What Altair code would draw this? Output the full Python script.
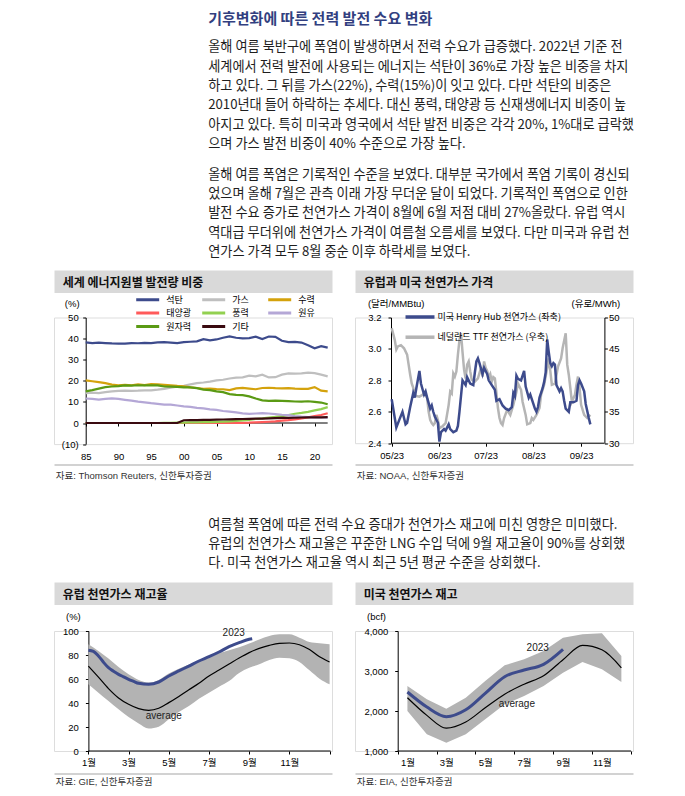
import altair as alt
import pandas as pd

FONT = "Noto Sans CJK KR"
MIX = "Liberation Sans, Noto Sans CJK KR"
NAVY = "#3d4b8c"
W = 278

# ---------------- text ----------------
heading = "기후변화에 따른 전력 발전 수요 변화"
para1 = [
    "올해 여름 북반구에 폭염이 발생하면서 전력 수요가 급증했다. 2022년 기준 전",
    "세계에서 전력 발전에 사용되는 에너지는 석탄이 36%로 가장 높은 비중을 차지",
    "하고 있다. 그 뒤를 가스(22%), 수력(15%)이 잇고 있다. 다만 석탄의 비중은",
    "2010년대 들어 하락하는 추세다. 대신 풍력, 태양광 등 신재생에너지 비중이 높",
    "아지고 있다. 특히 미국과 영국에서 석탄 발전 비중은 각각 20%, 1%대로 급락했",
    "으며 가스 발전 비중이 40% 수준으로 가장 높다.",
]
para2 = [
    "올해 여름 폭염은 기록적인 수준을 보였다. 대부분 국가에서 폭염 기록이 경신되",
    "었으며 올해 7월은 관측 이래 가장 무더운 달이 되었다. 기록적인 폭염으로 인한",
    "발전 수요 증가로 천연가스 가격이 8월에 6월 저점 대비 27%올랐다. 유럽 역시",
    "역대급 무더위에 천연가스 가격이 여름철 오름세를 보였다. 다만 미국과 유럽 천",
    "연가스 가격 모두 8월 중순 이후 하락세를 보였다.",
]
para3 = [
    "여름철 폭염에 따른 전력 수요 증대가 천연가스 재고에 미친 영향은 미미했다.",
    "유럽의 천연가스 재고율은 꾸준한 LNG 수입 덕에 9월 재고율이 90%를 상회했",
    "다. 미국 천연가스 재고율 역시 최근 5년 평균 수준을 상회했다.",
]
titles = ["세계 에너지원별 발전량 비중", "유럽과 미국 천연가스 가격", "유럽 천연가스 재고율", "미국 천연가스 재고"]
sources = ["자료: Thomson Reuters, 신한투자증권", "자료: NOAA, 신한투자증권", "자료: GIE, 신한투자증권", "자료: EIA, 신한투자증권"]

# ---------------- chart 1 data ----------------
years = [1985, 1986, 1987, 1988, 1989, 1990, 1991, 1992, 1993, 1994, 1995, 1996, 1997, 1998, 1999,
         2000, 2001, 2002, 2003, 2004, 2005, 2006, 2007, 2008, 2009, 2010, 2011, 2012, 2013, 2014,
         2015, 2016, 2017, 2018, 2019, 2020, 2021, 2022]
coal = [38.2, 37.9, 38.1, 37.9, 37.7, 37.6, 37.6, 37.9, 37.8, 38.0, 37.9, 38.2, 38.3, 38.1, 37.9,
        38.3, 38.5, 38.7, 39.7, 39.2, 39.6, 40.4, 41.0, 40.4, 40.1, 40.2, 40.9, 39.8, 41.0, 40.8,
        39.0, 38.3, 38.4, 38.1, 36.8, 35.4, 36.4, 35.7]
gas = [14.2, 14.4, 14.2, 14.6, 15.0, 15.2, 15.3, 15.2, 15.3, 15.5, 15.5, 15.8, 16.2, 16.8, 17.2,
       17.6, 18.3, 18.9, 19.2, 19.6, 20.2, 20.5, 21.1, 21.5, 21.6, 22.4, 22.1, 22.9, 21.6, 21.7,
       22.9, 23.5, 23.4, 23.5, 23.9, 23.6, 22.9, 22.1]
hydro = [20.2, 19.8, 19.4, 18.9, 18.2, 17.9, 18.1, 17.9, 18.3, 18.0, 18.4, 18.3, 18.1, 17.9, 17.6,
         17.4, 16.9, 16.6, 16.2, 16.3, 16.1, 16.0, 15.6, 16.4, 16.6, 16.3, 16.0, 16.6, 16.7, 16.5,
         16.4, 16.5, 16.3, 16.2, 16.2, 17.0, 15.3, 15.0]
solar = [0, 0, 0, 0, 0, 0, 0, 0, 0, 0, 0, 0, 0, 0, 0,
         0, 0, 0, 0, 0, 0, 0, 0, 0.1, 0.1, 0.15, 0.3, 0.45, 0.6, 0.8,
         1.1, 1.35, 1.75, 2.15, 2.65, 3.25, 3.8, 4.6]
wind = [0, 0, 0, 0, 0, 0, 0, 0, 0, 0, 0, 0, 0.05, 0.1, 0.15,
        0.2, 0.25, 0.3, 0.4, 0.45, 0.55, 0.65, 0.8, 1.0, 1.25, 1.5, 1.9, 2.2, 2.6, 2.9,
        3.3, 3.8, 4.4, 4.8, 5.3, 6.0, 6.6, 7.5]
oil = [11.6, 11.4, 11.1, 11.4, 11.7, 11.4, 11.0, 10.6, 10.1, 9.8, 9.4, 9.1, 8.7, 8.7, 8.3,
       7.9, 7.6, 7.2, 6.9, 6.5, 6.2, 5.7, 5.4, 5.0, 4.6, 4.3, 4.5, 4.7, 4.5, 4.2,
       3.9, 3.7, 3.3, 3.0, 2.8, 2.7, 2.6, 2.5]
nuclear = [15.0, 15.6, 16.3, 17.0, 17.3, 17.5, 17.8, 17.7, 17.9, 17.8, 17.9, 17.8, 17.3, 17.2, 17.1,
           16.9, 16.9, 16.5, 15.8, 15.6, 15.0, 14.6, 13.7, 13.3, 13.2, 12.6, 11.6, 10.7, 10.5, 10.6,
           10.5, 10.4, 10.2, 10.1, 10.3, 10.0, 9.7, 8.9]
other = [0, 0, 0, 0, 0, 0, 0, 0, 0, 0, 0, 0, 0, 0, 0,
         1.3, 1.35, 1.4, 1.45, 1.5, 1.6, 1.65, 1.7, 1.8, 1.9, 2.0, 2.05, 2.1, 2.2, 2.3,
         2.4, 2.45, 2.5, 2.6, 2.65, 2.7, 2.7, 2.75]
share_names = ["석탄", "가스", "수력", "태양광", "풍력", "원유", "원자력", "기타"]
share_values = [coal, gas, hydro, solar, wind, oil, nuclear, other]
share_colors = ["#3d4b8c", "#bfbfbf", "#d4a20c", "#ff5a5a", "#92d050", "#b4a7d6", "#5a9a14", "#3a0a10"]

# ---------------- chart 2 data ----------------
HH_NAME = "미국 Henry Hub 천연가스 (좌축)"
TTF_NAME = "네덜란드 TTF 천연가스 (우축)"
hh_dates = ["2023-05-01", "2023-05-04", "2023-05-06", "2023-05-08", "2023-05-10", "2023-05-11", "2023-05-13",
            "2023-05-15", "2023-05-16", "2023-05-17", "2023-05-19", "2023-05-20", "2023-05-22", "2023-05-23",
            "2023-05-24", "2023-05-26", "2023-05-27", "2023-05-28", "2023-05-29", "2023-05-31",
            "2023-06-01", "2023-06-02", "2023-06-04", "2023-06-05", "2023-06-07", "2023-06-08", "2023-06-10",
            "2023-06-12", "2023-06-13", "2023-06-14", "2023-06-15", "2023-06-16", "2023-06-18", "2023-06-19",
            "2023-06-21", "2023-06-23", "2023-06-24", "2023-06-25", "2023-06-26", "2023-06-27", "2023-06-29",
            "2023-06-30",
            "2023-07-02", "2023-07-03", "2023-07-05", "2023-07-07", "2023-07-08", "2023-07-10", "2023-07-12",
            "2023-07-14", "2023-07-16", "2023-07-18", "2023-07-19", "2023-07-20", "2023-07-21", "2023-07-22",
            "2023-07-24", "2023-07-26", "2023-07-27", "2023-07-29", "2023-07-30",
            "2023-08-01", "2023-08-02", "2023-08-03", "2023-08-04", "2023-08-05", "2023-08-07", "2023-08-08",
            "2023-08-09", "2023-08-10", "2023-08-11", "2023-08-12", "2023-08-13", "2023-08-14", "2023-08-15",
            "2023-08-16", "2023-08-17", "2023-08-18", "2023-08-19", "2023-08-20", "2023-08-21", "2023-08-22",
            "2023-08-24", "2023-08-25", "2023-08-27", "2023-08-29", "2023-08-30", "2023-08-31",
            "2023-09-01", "2023-09-03", "2023-09-04", "2023-09-06", "2023-09-07"]
hh_values = [2.68, 2.50, 2.55, 2.60, 2.52, 2.53, 2.63, 2.72, 2.69, 2.75, 2.86, 2.78, 2.71, 2.73, 2.69,
             2.62, 2.64, 2.60, 2.57, 2.53,
             2.41, 2.47, 2.49, 2.48, 2.52, 2.49, 2.47, 2.48, 2.51, 2.60, 2.70, 2.80, 2.77, 2.82, 2.78,
             2.77, 2.85, 2.92, 2.94, 2.91, 2.84, 2.88,
             2.84, 2.80, 2.77, 2.74, 2.67, 2.68, 2.64, 2.62, 2.61, 2.63, 2.72, 2.70, 2.83, 2.81, 2.80,
             2.86, 2.76, 2.69, 2.71,
             2.65, 2.62, 2.60, 2.63, 2.69, 2.75, 2.79, 2.85, 3.06, 2.98, 2.91, 2.89, 2.91, 2.90, 2.77,
             2.75, 2.73, 2.75, 2.73, 2.67, 2.62, 2.60, 2.66, 2.66, 2.67, 2.77, 2.80,
             2.78, 2.73, 2.65, 2.56, 2.52]
ttf_dates = ["2023-05-01", "2023-05-03", "2023-05-04", "2023-05-05", "2023-05-07", "2023-05-09", "2023-05-11",
             "2023-05-12", "2023-05-13", "2023-05-14", "2023-05-15", "2023-05-16", "2023-05-17", "2023-05-19",
             "2023-05-21", "2023-05-22", "2023-05-24", "2023-05-25", "2023-05-26", "2023-05-27", "2023-05-28",
             "2023-05-29", "2023-05-30", "2023-05-31",
             "2023-06-01", "2023-06-03", "2023-06-05", "2023-06-07", "2023-06-08", "2023-06-09", "2023-06-10",
             "2023-06-11", "2023-06-12", "2023-06-13", "2023-06-14", "2023-06-15", "2023-06-16", "2023-06-17",
             "2023-06-18", "2023-06-19", "2023-06-20", "2023-06-21", "2023-06-22", "2023-06-24", "2023-06-26",
             "2023-06-28", "2023-06-29", "2023-06-30",
             "2023-07-01", "2023-07-02", "2023-07-03", "2023-07-04", "2023-07-05", "2023-07-06", "2023-07-07",
             "2023-07-08", "2023-07-09", "2023-07-10", "2023-07-11", "2023-07-12", "2023-07-13", "2023-07-15",
             "2023-07-17", "2023-07-19", "2023-07-21", "2023-07-22", "2023-07-24", "2023-07-25", "2023-07-27",
             "2023-07-28", "2023-07-30", "2023-07-31",
             "2023-08-01", "2023-08-03", "2023-08-05", "2023-08-06", "2023-08-08", "2023-08-10", "2023-08-11",
             "2023-08-12", "2023-08-13", "2023-08-15", "2023-08-17", "2023-08-19", "2023-08-20", "2023-08-22",
             "2023-08-23", "2023-08-24", "2023-08-25", "2023-08-26", "2023-08-28", "2023-08-29", "2023-08-30",
             "2023-08-31",
             "2023-09-01", "2023-09-03", "2023-09-05", "2023-09-07"]
ttf_values = [48.3, 46.4, 44.9, 45.4, 45.6, 45.1, 44.1, 42.5, 40.9, 39.5, 38.8, 37.7, 37.5, 37.4, 37.7,
              38.0, 37.2, 35.0, 33.7, 33.2, 32.9, 33.2, 34.5, 33.7,
              32.4, 32.7, 33.2, 36.1, 38.2, 37.9, 41.1, 40.6, 41.4, 44.1, 46.4, 47.5, 44.5, 41.7, 40.3,
              42.5, 43.0, 41.4, 40.1, 39.8, 40.3, 42.0, 40.6, 43.0,
              42.0, 41.5, 40.5, 41.0, 39.8, 40.5, 40.3, 38.0, 35.6, 34.0, 33.2, 32.9, 34.0, 35.3, 34.5,
              36.1, 38.2, 39.5, 38.5, 36.6, 34.5, 33.0, 33.2, 34.0,
              33.7, 34.5, 35.6, 37.7, 39.3, 42.0, 43.5, 41.5, 39.3, 39.5, 42.2, 43.5, 45.1, 47.5, 42.5,
              40.9, 38.8, 36.6, 37.7, 39.3, 40.6, 38.8,
              36.1, 34.5, 34.0, 34.5]

# ---------------- chart 3 data (month units, 1 = Jan 1) ----------------
eu_m = [1.0, 1.5, 2.0, 2.5, 3.0, 3.5, 4.0, 4.5, 5.0, 5.5, 6.0, 6.5, 7.0, 7.5, 8.0, 8.5, 9.0, 9.5,
        10.0, 10.5, 11.0, 11.5, 12.0, 12.5, 13.0]
eu_avg = [70.8, 61.5, 52.0, 44.2, 38.9, 35.3, 33.9, 35.6, 40.3, 45.5, 51.0, 56.5, 62.5, 67.5, 72.5,
          77.5, 82.0, 85.5, 88.0, 89.7, 90.0, 88.5, 84.5, 78.5, 74.2]
eu_hi = [88.9, 83.3, 77.0, 70.0, 63.9, 59.2, 57.0, 59.2, 64.5, 68.5, 72.0, 75.5, 78.5, 81.5, 84.0,
         86.5, 89.5, 93.0, 95.8, 97.2, 97.2, 94.4, 90.8, 89.7, 88.9]
eu_lo = [55.6, 48.6, 41.7, 34.7, 28.3, 23.0, 18.8, 20.3, 26.5, 32.5, 37.5, 43.6, 48.6, 53.6, 58.3,
         65.0, 69.4, 72.2, 75.8, 77.8, 77.2, 74.2, 67.2, 60.3, 55.6]
eu23_m = [1.0, 1.25, 1.5, 1.75, 2.0, 2.25, 2.5, 2.75, 3.0, 3.25, 3.5, 4.0, 4.5, 5.0, 5.5, 6.0, 6.5,
          7.0, 7.5, 8.0, 8.5, 9.0, 9.15]
eu23 = [84.0, 83.0, 79.2, 74.0, 69.4, 66.5, 63.9, 61.8, 59.7, 58.0, 56.4, 55.6, 57.5, 62.5, 66.7,
        70.8, 75.0, 78.6, 82.5, 86.9, 90.3, 93.1, 93.6]

# ---------------- chart 4 data (month units, 0 = Jan 1, mid-month points) ----------------
us_m = [0.5, 1.5, 2.5, 3.5, 4.5, 5.5, 6.5, 7.5, 8.5, 9.5, 10.5, 11.5]
us_avg = [2330, 1890, 1570, 1725, 2080, 2420, 2670, 2880, 3280, 3640, 3530, 3080]
us_hi = [2625, 2292, 2058, 2333, 2750, 3142, 3292, 3500, 3833, 3917, 3942, 3375]
us_lo = [2000, 1417, 1208, 1417, 1792, 2167, 2375, 2625, 2958, 3225, 3042, 2725]
us23_m = [0.5, 1.5, 2.5, 3.5, 4.5, 5.5, 6.5, 7.5, 8.5]
us23 = [2475, 2100, 1858, 2030, 2442, 2858, 3025, 3167, 3542]


# ---------------- helpers ----------------
def ax(**kw):
    base = dict(grid=False, domainColor="black", tickColor="black", labelColor="black",
                labelFont=MIX, labelFontSize=9.5, tickSize=3, minExtent=0,
                titleFont=MIX, titleFontSize=9.5, titleFontWeight="normal", titleColor="black")
    base.update(kw)
    return alt.Axis(**base)


def header_view(txt):
    return alt.Chart(pd.DataFrame({"t": [txt]})).mark_text(
        align="left", baseline="middle", dx=-W / 2 + 8.7, dy=2,
        font=FONT, fontSize=12, fontWeight="bold", color="#111111"
    ).encode(text="t:N").properties(
        width=W, height=22.5,
        view=alt.ViewBackground(fill="#d9d9d9", stroke="transparent"))


def footer_view(txt, dy):
    return alt.Chart(pd.DataFrame({"t": [txt]})).mark_text(
        align="left", baseline="middle", dx=-W / 2 + 1.7, dy=dy,
        font=MIX, fontSize=9.5, color="#333333"
    ).encode(text="t:N").properties(
        width=W, height=1,
        view=alt.ViewBackground(fill="#a6a6a6", stroke="transparent"))


# ---------------- chart 1 ----------------
H1 = 126.6
x1s = alt.Scale(domain=[1980.15, 2022.66], nice=False, zero=False)
y1s = alt.Scale(domain=[-10, 50], nice=False, zero=False)
color1 = alt.Color("source:N", scale=alt.Scale(domain=share_names, range=share_colors),
                   legend=alt.Legend(orient="none", legendX=89.2, legendY=-22.5, direction="horizontal",
                                     columns=3, gridAlign="all", title=None, padding=0,
                                     symbolType="M-4,0H4", symbolSize=33, symbolStrokeWidth=3,
                                     labelFont=FONT, labelFontSize=9, labelColor="black",
                                     labelOffset=14, columnPadding=5, rowPadding=0.5))
x1_axis = ax(values=[1985, 1990, 1995, 2000, 2005, 2010, 2015, 2020], orient="bottom",
             offset=-(H1 * 10 / 60), domain=False, labelPadding=25.5, labelFlush=False,
             labelExpr="substring(toString(datum.value), 2, 4)", title=None)
y1_axis = ax(values=[-10, 0, 10, 20, 30, 40, 50], orient="left", offset=-31.7, labelPadding=4.5,
             labelExpr="datum.value < 0 ? '(' + abs(datum.value) + ')' : datum.value",
             title="(%)", titleAngle=0, titleX=-14, titleY=-14.3, titleAlign="center",
             titleBaseline="middle")

zero_rule = alt.Chart(pd.DataFrame({"v": [0]})).mark_rule(color="black", strokeWidth=1).encode(
    x=alt.XDatum(1985, scale=x1s, axis=x1_axis), x2=alt.X2Datum(2022),
    y=alt.YDatum(0, scale=y1s, axis=y1_axis))
layers1 = [zero_rule]
for name, vals in zip(share_names, share_values):
    d = pd.DataFrame({"year": years, "share": vals, "source": name})
    layers1.append(alt.Chart(d).mark_line(strokeWidth=2.2).encode(
        x=alt.X("year:Q", scale=x1s, axis=x1_axis),
        y=alt.Y("share:Q", scale=y1s, axis=y1_axis),
        color=color1))
chart1 = alt.layer(*layers1).properties(width=W, height=H1)

# ---------------- chart 2 ----------------
H2 = 125.7


def dt(m, d, h=0):
    return alt.DateTime(year=2023, month=m, date=d, hours=h, utc=True)


x2s = alt.Scale(type="utc", domain=[dt(4, 7, 4), dt(10, 4, 17)])
color2 = alt.Color("series:N", scale=alt.Scale(domain=[HH_NAME, TTF_NAME], range=[NAVY, "#b5b5b5"]),
                   legend=alt.Legend(orient="none", legendX=60, legendY=-5.5, direction="vertical",
                                     title=None, padding=0, symbolType="M-5,0H5", symbolSize=33.6,
                                     symbolStrokeWidth=3.5, labelFont=FONT, labelFontSize=9,
                                     labelColor="black", labelOffset=12.5, rowPadding=6.2, labelLimit=300))
x2_axis = ax(values=[dt(5, 1), dt(6, 1), dt(7, 1), dt(8, 1), dt(9, 1)], format="%m/%y", domain=False,
             labelPadding=4, labelFlush=False, title=None)
yl_axis = ax(orient="left", offset=-36, values=[2.4, 2.6, 2.8, 3.0, 3.2], format=".1f",
             labelPadding=7, title="(달러/MMBtu)", titleAngle=0, titleX=4.7, titleY=-14.3,
             titleAlign="center", titleBaseline="middle")
yr_axis = ax(orient="right", offset=249.4 - W, values=[30, 35, 40, 45, 50], labelPadding=1,
             title="(유로/MWh)", titleAngle=0, titleX=-9, titleY=-14.3, titleAlign="center",
             titleBaseline="middle")
yls = alt.Scale(domain=[2.4, 3.2], nice=False, zero=False)
yrs = alt.Scale(domain=[30, 50], nice=False, zero=False)
df_hh = pd.DataFrame({"date": hh_dates, "price": hh_values, "series": HH_NAME})
df_ttf = pd.DataFrame({"date": ttf_dates, "price": ttf_values, "series": TTF_NAME})

ttf_line = alt.Chart(df_ttf).mark_line(strokeWidth=2.5).encode(
    x=alt.X("date:T", scale=x2s, axis=x2_axis),
    y=alt.Y("price:Q", scale=yrs, axis=yr_axis),
    color=color2)
hh_rule = alt.Chart(pd.DataFrame({"v": [0]})).mark_rule(color="black", strokeWidth=1).encode(
    x=alt.XDatum(dt(5, 1), scale=x2s, axis=x2_axis), x2=alt.X2Datum(dt(9, 16)),
    y=alt.YDatum(2.4, scale=yls, axis=yl_axis))
hh_line = alt.Chart(df_hh).mark_line(strokeWidth=2.5).encode(
    x=alt.X("date:T", scale=x2s, axis=x2_axis),
    y=alt.Y("price:Q", scale=yls, axis=yl_axis),
    color=color2)
chart2 = alt.layer(ttf_line, alt.layer(hh_rule, hh_line)).resolve_scale(y="independent").properties(
    width=W, height=H2)

# ---------------- chart 3 ----------------
H3 = 120
x3s = alt.Scale(domain=[-0.711, 13.12], nice=False, zero=False)
y3s = alt.Scale(domain=[0, 100], nice=False, zero=False)
x3_axis = ax(values=[1, 3, 5, 7, 9, 11, 13], domain=False, labelPadding=3, labelFlush=False, title=None,
             labelExpr="datum.value < 13 ? datum.value + '월' : ''")
y3_axis = ax(values=[0, 20, 40, 60, 80, 100], offset=-34.4, labelPadding=7,
             title="(%)", titleAngle=0, titleX=-15.5, titleY=-15, titleAlign="center",
             titleBaseline="middle")
df3 = pd.DataFrame({"m": eu_m, "avg": eu_avg, "hi": eu_hi, "lo": eu_lo})
df3b = pd.DataFrame({"m": eu23_m, "v": eu23})
band3 = alt.Chart(df3).mark_area(color="#b3b3b3", interpolate="monotone").encode(
    x=alt.X("m:Q", scale=x3s, axis=x3_axis), y=alt.Y("lo:Q", scale=y3s, axis=y3_axis), y2="hi:Q")
rule3 = alt.Chart(pd.DataFrame({"v": [0]})).mark_rule(color="black", strokeWidth=1).encode(
    x=alt.XDatum(1, scale=x3s, axis=x3_axis), x2=alt.X2Datum(13.05),
    y=alt.YDatum(0, scale=y3s, axis=y3_axis))
avg3 = alt.Chart(df3).mark_line(color="black", strokeWidth=1.2, interpolate="monotone").encode(
    x=alt.X("m:Q", scale=x3s, axis=x3_axis), y=alt.Y("avg:Q", scale=y3s, axis=y3_axis))
line3 = alt.Chart(df3b).mark_line(color=NAVY, strokeWidth=3, interpolate="monotone").encode(
    x=alt.X("m:Q", scale=x3s, axis=x3_axis), y=alt.Y("v:Q", scale=y3s, axis=y3_axis))
t3a = alt.Chart(pd.DataFrame({"t": ["2023"]})).mark_text(font=MIX, fontSize=10, color="#222222").encode(
    x=alt.XDatum(8.23, scale=x3s, axis=x3_axis), y=alt.YDatum(98.6, scale=y3s, axis=y3_axis), text="t:N")
t3b = alt.Chart(pd.DataFrame({"t": ["average"]})).mark_text(font=MIX, fontSize=10, color="#222222").encode(
    x=alt.XDatum(4.75, scale=x3s, axis=x3_axis), y=alt.YDatum(29.2, scale=y3s, axis=y3_axis), text="t:N")
chart3 = alt.layer(band3, rule3, avg3, line3, t3a, t3b).properties(width=W, height=H3)

# ---------------- chart 4 ----------------
x4s = alt.Scale(domain=[-2.195, 12.098], nice=False, zero=False)
y4s = alt.Scale(domain=[1000, 4000], nice=False, zero=False)
x4_axis = ax(values=[0, 2, 4, 6, 8, 10, 12], domain=False, labelPadding=3, labelFlush=False,
             labelOffset=9.7, title=None,
             labelExpr="datum.value < 12 ? (datum.value + 1) + '월' : ''")
y4_axis = ax(values=[1000, 2000, 3000, 4000], format=",d", offset=-42.7, labelPadding=7,
             title="(bcf)", titleAngle=0, titleX=-21.7, titleY=-15, titleAlign="center",
             titleBaseline="middle")
df4 = pd.DataFrame({"m": us_m, "avg": us_avg, "hi": us_hi, "lo": us_lo})
df4b = pd.DataFrame({"m": us23_m, "v": us23})
band4 = alt.Chart(df4).mark_area(color="#b3b3b3").encode(
    x=alt.X("m:Q", scale=x4s, axis=x4_axis), y=alt.Y("lo:Q", scale=y4s, axis=y4_axis), y2="hi:Q")
rule4 = alt.Chart(pd.DataFrame({"v": [0]})).mark_rule(color="black", strokeWidth=1).encode(
    x=alt.XDatum(0, scale=x4s, axis=x4_axis), x2=alt.X2Datum(12),
    y=alt.YDatum(1000, scale=y4s, axis=y4_axis))
avg4 = alt.Chart(df4).mark_line(color="black", strokeWidth=1.2, interpolate="monotone").encode(
    x=alt.X("m:Q", scale=x4s, axis=x4_axis), y=alt.Y("avg:Q", scale=y4s, axis=y4_axis))
line4 = alt.Chart(df4b).mark_line(color=NAVY, strokeWidth=3, interpolate="monotone").encode(
    x=alt.X("m:Q", scale=x4s, axis=x4_axis), y=alt.Y("v:Q", scale=y4s, axis=y4_axis))
t4a = alt.Chart(pd.DataFrame({"t": ["2023"]})).mark_text(font=MIX, fontSize=10, color="#222222").encode(
    x=alt.XDatum(7.2, scale=x4s, axis=x4_axis), y=alt.YDatum(3582, scale=y4s, axis=y4_axis), text="t:N")
t4b = alt.Chart(pd.DataFrame({"t": ["average"]})).mark_text(font=MIX, fontSize=10, color="#222222").encode(
    x=alt.XDatum(6.13, scale=x4s, axis=x4_axis), y=alt.YDatum(2170, scale=y4s, axis=y4_axis), text="t:N")
chart4 = alt.layer(band4, rule4, avg4, line4, t4a, t4b).properties(width=W, height=H3)


# ---------------- layout ----------------
PFS = 13.2


def para_title(lines, offset):
    return alt.TitleParams(text=lines, anchor="start", frame="bounds", dx=154.7, offset=offset,
                           font=FONT, fontSize=PFS, fontWeight="normal", color="#1e1e1e",
                           lineHeight=19.4)


row1 = alt.vconcat(
    alt.hconcat(header_view(titles[0]), header_view(titles[1]), spacing=21),
    alt.hconcat(chart1, chart2, spacing=21).resolve_scale(color="independent"),
    alt.hconcat(footer_view(sources[0], 11), footer_view(sources[1], 11), spacing=21),
    spacing=1.5,
).properties(title=para_title(para2, 10.2)).resolve_scale(color="independent")

row2 = alt.vconcat(
    alt.hconcat(header_view(titles[2]), header_view(titles[3]), spacing=21),
    alt.hconcat(chart3, chart4, spacing=21),
    alt.hconcat(footer_view(sources[2], 8.5), footer_view(sources[3], 8.5), spacing=21),
    spacing=5,
).properties(title=para_title(para3, 11))

page = alt.vconcat(row1, row2, spacing=36).properties(
    title=alt.TitleParams(text=heading, subtitle=para1, anchor="start", frame="bounds", dx=154.7,
                          offset=17, font=FONT, fontSize=15, fontWeight="bold", color="#323f80",
                          subtitleFont=FONT, subtitleFontSize=PFS, subtitleColor="#1e1e1e",
                          subtitleLineHeight=19.4, subtitlePadding=14.5),
    padding={"left": 45, "top": 3, "right": 5, "bottom": 0},
).resolve_scale(color="independent").configure_view(stroke="transparent").configure(background="white")

page.save("out.html", embed_options={"renderer": "svg", "actions": False})
